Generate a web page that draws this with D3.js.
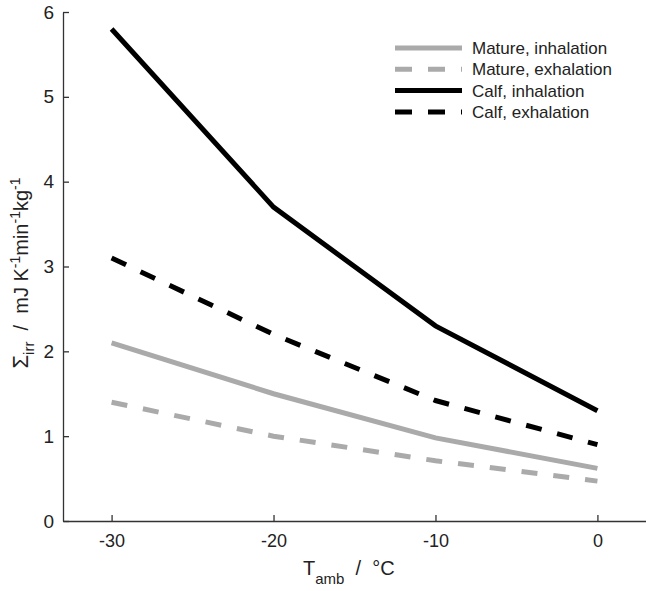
<!DOCTYPE html>
<html><head><meta charset="utf-8">
<script src="https://cdn.jsdelivr.net/npm/d3@7"></script>
<style>body{margin:0;background:#fff}svg{display:block}text{font-family:"Liberation Sans",Arial,sans-serif}</style>
</head><body>
<script>
const temps = [-30, -20, -10, 0];
const xTicks = [-30, -20, -10, 0];
const yTicks = [0, 1, 2, 3, 4, 5, 6];
const matureInhalation = [2.1, 1.5, 0.98, 0.62];
const matureExhalation = [1.4, 1.0, 0.71, 0.47];
const calfInhalation = [5.8, 3.7, 2.3, 1.3];
const calfExhalation = [3.1, 2.2, 1.42, 0.9];
const seriesNames = ["Mature, inhalation", "Mature, exhalation", "Calf, inhalation", "Calf, exhalation"];
const seriesColors = ["#aaaaaa", "#aaaaaa", "#000000", "#000000"];
const seriesDashed = [false, true, false, true];
const seriesValues = [matureInhalation, matureExhalation, calfInhalation, calfExhalation];

const W = 646, H = 591;
const NB = "\u00a0";
const svg = d3.select("body").append("svg").attr("width", W).attr("height", H);
const x = d3.scaleLinear().domain([-33, 3]).range([63, 646]);
const y = d3.scaleLinear().domain([0, 6]).range([521, 12]);
const axisColor = "#333";

const xAxis = svg.append("g").attr("transform", `translate(0,${y(0)})`)
  .call(d3.axisBottom(x).tickValues(xTicks).tickFormat(d3.format("d")).tickSizeInner(-6).tickSizeOuter(0).tickPadding(13));
const yAxis = svg.append("g").attr("transform", `translate(${x(-33)},0)`)
  .call(d3.axisLeft(y).tickValues(yTicks).tickFormat(d3.format("d")).tickSizeInner(-6).tickSizeOuter(0).tickPadding(9));
[xAxis, yAxis].forEach(g => {
  g.select(".domain").attr("stroke", axisColor).attr("stroke-width", 1.3);
  g.selectAll(".tick line").attr("stroke", axisColor).attr("stroke-width", 1.3);
  g.selectAll(".tick text").attr("fill", "#222").style("font-size", "19px").style("font-family", "Liberation Sans, Arial, sans-serif");
});
xAxis.selectAll(".tick text").text(d => d < 0 ? "-" + Math.abs(d) : d).style("font-size", "18px");

const line = d3.line().x((d, i) => x(temps[i])).y(d => y(d));
seriesValues.forEach((vals, k) => {
  svg.append("path").datum(vals).attr("d", line)
    .attr("fill", "none").attr("stroke", seriesColors[k]).attr("stroke-width", 5)
    .attr("stroke-dasharray", seriesDashed[k] ? "16,16" : null);
});

// legend
const lg = svg.append("g");
seriesNames.forEach((name, k) => {
  const yy = 48 + k * 21.3;
  lg.append("line").attr("x1", 395).attr("x2", 462).attr("y1", yy).attr("y2", yy)
    .attr("stroke", seriesColors[k]).attr("stroke-width", 5)
    .attr("stroke-dasharray", seriesDashed[k] ? "17,16" : null);
  lg.append("text").attr("x", 472).attr("y", yy + 6).attr("fill", "#222")
    .style("font-size", "17px").text(name);
});

// axis labels
const xl = svg.append("text").attr("x", 303).attr("y", 575).attr("text-anchor", "start")
  .attr("fill", "#222").style("font-size", "20px");
xl.append("tspan").text("T");
xl.append("tspan").attr("dy", 9).style("font-size", "15px").text("amb");
xl.append("tspan").attr("dy", -9).text(NB + NB + "/" + NB + NB + "°C");

const yl = svg.append("text").attr("transform", `translate(28,273) rotate(-90)`).attr("text-anchor", "middle")
  .attr("fill", "#222").style("font-size", "20px");
yl.append("tspan").style("font-size", "22px").text("Σ");
yl.append("tspan").attr("dy", 6).style("font-size", "15px").text("irr");
yl.append("tspan").attr("dy", -6).text(NB + NB + "/" + NB + NB + "mJ K");
yl.append("tspan").attr("dy", -8).style("font-size", "14px").text("-1");
yl.append("tspan").attr("dy", 8).text("min");
yl.append("tspan").attr("dy", -8).style("font-size", "14px").text("-1");
yl.append("tspan").attr("dy", 8).text("kg");
yl.append("tspan").attr("dy", -8).style("font-size", "14px").text("-1");
</script>
</body></html>
